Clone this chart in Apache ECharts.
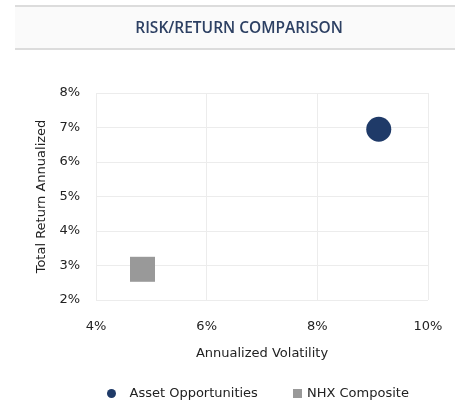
<!DOCTYPE html>
<html>
<head>
    <meta charset="UTF-8">
    <title>Risk/Return Comparison</title>
    <script src="https://cdn.jsdelivr.net/npm/echarts/dist/echarts.min.js"></script>
    <style>
        html, body { margin: 0; padding: 0; background: #ffffff; }
        #chart { width: 461px; height: 407px; }
    </style>
</head>
<body>
    <div id="chart"></div>
    <script>
        // series names and [volatility, return] points
        var seriesNames = ['Asset Opportunities', 'NHX Composite'];
        var assetPoints = [[9.11, 6.95]];
        var nhxPoints = [[4.84, 2.89]];

        var chart = echarts.init(document.getElementById('chart'));

        var font = '"DejaVu Sans", Verdana, sans-serif';
        var legendText = { fontFamily: font, fontSize: 13, color: '#222' };

        var option = {
            animation: false,
            backgroundColor: '#ffffff',
            graphic: [
                {
                    type: 'rect',
                    shape: { x: 15, y: 6, width: 440, height: 43 },
                    style: { fill: '#fafafa' }
                },
                {
                    type: 'rect',
                    shape: { x: 15, y: 5, width: 440, height: 2 },
                    style: { fill: '#dcdcdc' }
                },
                {
                    type: 'rect',
                    shape: { x: 15, y: 48, width: 440, height: 2 },
                    style: { fill: '#dcdcdc' }
                }
            ],
            title: {
                text: 'RISK/RETURN COMPARISON',
                left: 234,
                textAlign: 'center',
                top: 16,
                textStyle: {
                    fontFamily: '"Open Sans"',
                    fontWeight: 600,
                    fontSize: 15.5,
                    color: '#2d4063'
                }
            },
            // two legends so each icon sits where the reference puts it
            legend: [
                {
                    data: [seriesNames[0]],
                    left: 107,
                    top: 387,
                    padding: 0,
                    itemWidth: 26,
                    itemHeight: 9,
                    textStyle: legendText
                },
                {
                    data: [seriesNames[1]],
                    left: 293,
                    top: 387,
                    padding: 0,
                    itemWidth: 9,
                    itemHeight: 9,
                    textStyle: legendText
                }
            ],
            grid: { left: 96, right: 33, top: 93, bottom: 107 },
            xAxis: {
                type: 'value',
                min: 4,
                max: 10,
                interval: 2,
                name: 'Annualized Volatility',
                nameLocation: 'middle',
                nameGap: 47,
                nameTextStyle: { fontFamily: font, fontSize: 13, color: '#222' },
                axisLine: { show: false },
                axisTick: { show: false },
                axisLabel: { formatter: '{value}%', margin: 20, fontFamily: font, fontSize: 13, color: '#222' },
                splitLine: { show: true, lineStyle: { color: '#ececec', width: 1 } }
            },
            yAxis: {
                type: 'value',
                min: 2,
                max: 8,
                interval: 1,
                name: 'Total Return Annualized',
                nameLocation: 'middle',
                nameGap: 41,
                nameTextStyle: { fontFamily: font, fontSize: 13, color: '#222' },
                axisLine: { show: false },
                axisTick: { show: false },
                axisLabel: { formatter: '{value}%', margin: 16, fontFamily: font, fontSize: 13, color: '#222' },
                splitLine: { show: true, lineStyle: { color: '#ececec', width: 1 } }
            },
            series: [
                {
                    name: seriesNames[0],
                    type: 'scatter',
                    symbol: 'circle',
                    symbolSize: 25,
                    itemStyle: { color: '#1f3a68', opacity: 1 },
                    data: assetPoints
                },
                {
                    name: seriesNames[1],
                    type: 'scatter',
                    symbol: 'rect',
                    symbolSize: 25,
                    itemStyle: { color: '#999999', opacity: 1 },
                    data: nhxPoints
                }
            ]
        };

        chart.setOption(option);
    </script>
</body>
</html>
